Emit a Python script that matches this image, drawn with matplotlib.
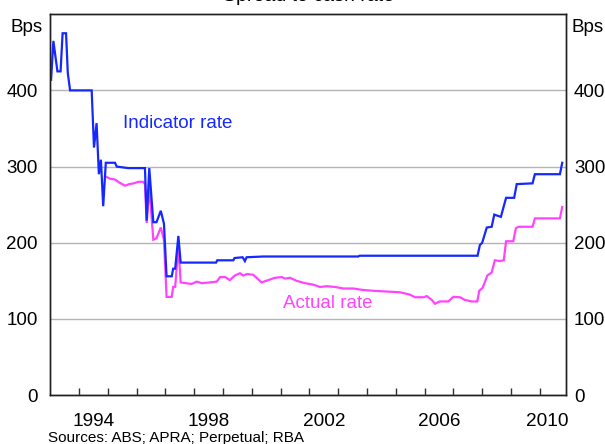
import matplotlib
matplotlib.use("Agg")
import matplotlib.pyplot as plt
from matplotlib.ticker import FixedLocator, NullFormatter

plt.rcParams['font.family'] = ['Liberation Sans', 'DejaVu Sans']

# ---- data ----
blue_x = [1993.03, 1993.11, 1993.25, 1993.36, 1993.43, 1993.55, 1993.61, 1993.69, 1994.44, 1994.52,
          1994.61, 1994.69, 1994.76, 1994.84, 1994.93, 1995.25, 1995.31, 1995.71, 1996.29, 1996.35,
          1996.44, 1996.58, 1996.69, 1996.84, 1996.95, 1997.04, 1997.22, 1997.27, 1997.34, 1997.45,
          1997.53, 1998.76, 1998.80, 1999.36, 1999.40, 1999.68, 1999.76, 1999.82, 2000.4, 2003.7,
          2003.74, 2007.84, 2007.92, 2008.0, 2008.16, 2008.33, 2008.42, 2008.65, 2008.83, 2009.11,
          2009.2, 2009.75, 2009.83, 2010.7, 2010.78]
indicator_rate = [414, 465, 425, 425, 475, 475, 423, 400, 400, 325,
                  357, 290, 309, 248, 305, 305, 300, 298, 298, 229,
                  298, 227, 227, 242, 225, 156, 156, 166, 166, 209,
                  174, 174, 177, 177, 180, 181, 176, 181, 182, 182,
                  183, 183, 197, 200, 220, 221, 237, 234, 259, 259,
                  277, 278, 290, 290, 305]

mag_x = [1994.93, 1995.08, 1995.25, 1995.4, 1995.6, 1995.75, 1995.9, 1996.06, 1996.23, 1996.29,
         1996.35, 1996.44, 1996.58, 1996.69, 1996.84, 1996.95, 1997.04, 1997.22, 1997.27, 1997.34,
         1997.45, 1997.53, 1997.7, 1997.91, 1998.09, 1998.26, 1998.55, 1998.78, 1998.9, 1999.07,
         1999.24, 1999.41, 1999.59, 1999.7, 1999.84, 2000.05, 2000.34, 2000.57, 2000.8, 2001.04,
         2001.15, 2001.33, 2001.56, 2001.85, 2002.14, 2002.37, 2002.6, 2002.89, 2003.18, 2003.52,
         2003.87, 2004.22, 2004.69, 2005.15, 2005.49, 2005.67, 2005.96, 2006.08, 2006.25, 2006.36,
         2006.53, 2006.82, 2007.0, 2007.23, 2007.4, 2007.64, 2007.83, 2007.9, 2008.02, 2008.18,
         2008.33, 2008.44, 2008.62, 2008.75, 2008.83, 2009.08, 2009.17, 2009.25, 2009.75, 2009.83,
         2010.7, 2010.78]
actual_rate = [287, 284, 283, 279, 275, 277, 278, 280, 280, 277,
               226, 274, 204, 206, 220, 204, 129, 129, 142, 142,
               196, 148, 147, 146, 149, 147, 148, 149, 155, 155,
               151, 157, 160, 157, 159, 158, 148, 151, 154, 155,
               153, 154, 150, 147, 145, 142, 143, 142, 140, 140,
               138, 137, 136, 135, 132, 128.5, 128.5, 130, 125, 120,
               123, 123, 129, 128.5, 125, 123, 123, 137, 141, 157,
               161, 177, 176, 177, 202, 202, 219, 221, 221, 232,
               232, 247]

year_ticks = list(range(1994, 2011))
year_labels = ['1994', '1998', '2002', '2006', '2010']
year_label_pos = [1994.5, 1998.5, 2002.5, 2006.5, 2010.25]
y_ticks = [0, 100, 200, 300, 400]

# ---- figure ----
fig = plt.figure(figsize=(6.05, 4.44), dpi=100)
ax = fig.add_axes([0.083, 0.110, 0.852, 0.858])

ax.plot(blue_x, indicator_rate, color='#1428ff', lw=1.6, solid_joinstyle='miter', zorder=3)
ax.plot(mag_x, actual_rate, color='#ff44ff', lw=1.6, solid_joinstyle='miter', zorder=2)

ax.set_xlim(1993.0, 2010.9)
ax.set_ylim(0, 500)

ax.set_yticks(y_ticks)
ax.yaxis.grid(True, color='#b4b4b4', lw=1.0)
ax.set_axisbelow(True)
ax.tick_params(axis='y', length=0, labelsize=13.5, pad=9)

ax2 = ax.twinx()
ax2.set_ylim(0, 500)
ax2.set_yticks(y_ticks)
ax2.tick_params(axis='y', length=0, labelsize=13.5, pad=6)

ax.xaxis.set_major_locator(FixedLocator(year_ticks))
ax.xaxis.set_major_formatter(NullFormatter())
ax.xaxis.set_minor_locator(FixedLocator(year_label_pos))
ax.set_xticklabels(year_labels, minor=True)
ax.tick_params(axis='x', which='major', direction='in', length=5, width=1, color='#303030')
ax.tick_params(axis='x', which='minor', length=0, labelsize=13.7, pad=13)

for a in (ax, ax2):
    for s in a.spines.values():
        s.set_color('#202020')
        s.set_linewidth(1.0)

ax.text(1995.54, 357, 'Indicator rate', color='#1428ff', fontsize=13.5, va='center', ha='left')
ax.text(2001.07, 120, 'Actual rate', color='#ff44ff', fontsize=13.5, va='center', ha='left')

fig.text(0.070, 0.939, 'Bps', fontsize=13.5, ha='right', va='center')
fig.text(0.945, 0.939, 'Bps', fontsize=13.5, ha='left', va='center')
fig.text(0.51, 0.997, 'Spread to cash rate', fontsize=14, ha='center', va='baseline')
fig.text(0.079, 0.014, 'Sources: ABS; APRA; Perpetual; RBA', fontsize=11, ha='left', va='center')

fig.savefig('out.png', dpi=100)
